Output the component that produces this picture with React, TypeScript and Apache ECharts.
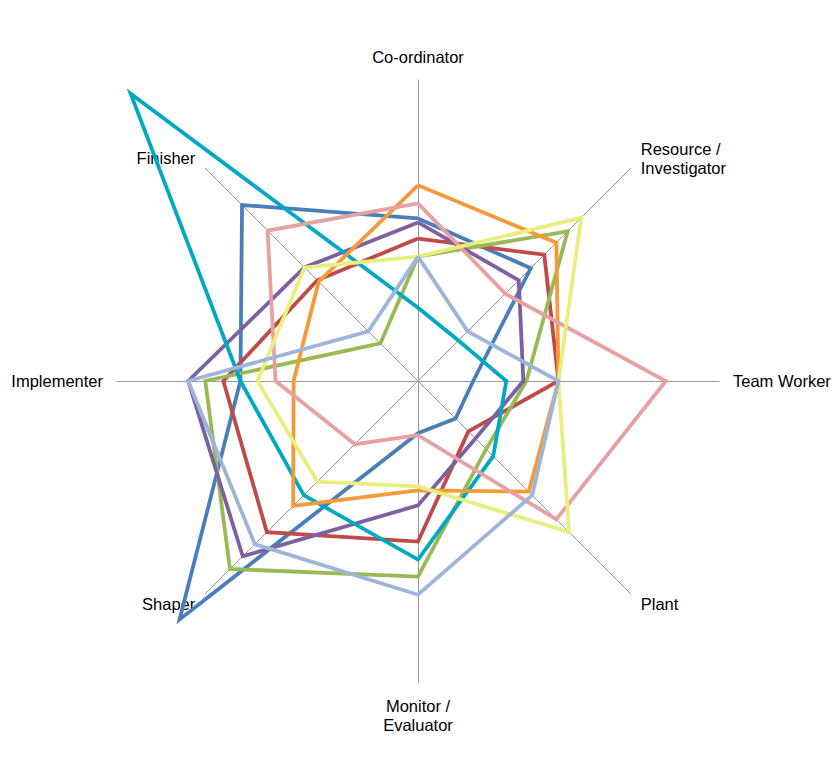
import React, { useEffect, useRef } from "react";
import * as echarts from "echarts";

// Indicators listed counter-clockwise from the top (ECharts radar order)
const indicators = [
  "Co-ordinator",
  "Finisher",
  "Implementer",
  "Shaper",
  "Monitor /\nEvaluator",
  "Plant",
  "Team Worker",
  "Resource /\nInvestigator",
];

// values in the same order as indicators
const seriesBlue = [16.2, 24.8, 17.7, 33.6, 5.2, 5.3, 5.5, 15.9];
const seriesRed = [14.2, 14.2, 19.4, 21.3, 16.0, 7.1, 14.0, 17.8];
const seriesGreen = [12.4, 5.3, 21.2, 26.5, 19.5, 9.6, 10.8, 21.1];
const seriesPurple = [15.8, 16.0, 22.9, 24.7, 12.4, 8.1, 10.5, 14.2];
const seriesTeal = [7.3, 40.5, 17.7, 16.1, 17.8, 10.6, 8.8, 5.7];
const seriesOrange = [19.5, 14.0, 12.4, 17.6, 10.9, 15.6, 14.0, 19.5];
const seriesPink = [17.7, 21.2, 14.2, 8.9, 5.4, 19.5, 24.7, 12.3];
const seriesYellow = [12.4, 16.0, 16.0, 14.2, 10.5, 21.3, 14.0, 23.0];
const seriesLightBlue = [12.4, 7.0, 22.9, 23.0, 21.3, 16.1, 14.0, 7.0];

const allSeries = [
  { name: "Blue", values: seriesBlue, color: "#4a7ebb" },
  { name: "Red", values: seriesRed, color: "#be4b48" },
  { name: "Green", values: seriesGreen, color: "#98b954" },
  { name: "Purple", values: seriesPurple, color: "#7d60a0" },
  { name: "Teal", values: seriesTeal, color: "#00a9c2" },
  { name: "Orange", values: seriesOrange, color: "#f49a38" },
  { name: "Pink", values: seriesPink, color: "#e6a1a0" },
  { name: "Yellow", values: seriesYellow, color: "#e9ef7e" },
  { name: "LightBlue", values: seriesLightBlue, color: "#9eb5da" },
];

const AXIS_MAX = 30;

export default function App() {
  const ref = useRef<HTMLDivElement>(null);
  useEffect(() => {
    if (!ref.current) return;
    const chart = echarts.init(ref.current, undefined, { renderer: "svg" });
    chart.setOption({
      animation: false,
      backgroundColor: "#ffffff",
      radar: {
        center: [418, 381],
        radius: 301,
        startAngle: 90,
        splitNumber: 1,
        shape: "polygon",
        indicator: indicators.map((n) => ({ name: n, min: 0, max: AXIS_MAX })),
        nameGap: 14,
        axisName: {
          color: "#000",
          fontSize: 16.5,
          fontFamily: "Liberation Sans, Arial, sans-serif",
          lineHeight: 19,
        },
        axisLine: { lineStyle: { color: "#999", width: 1 } },
        splitLine: { show: false },
        splitArea: { show: false },
        axisTick: { show: false },
        axisLabel: { show: false },
      },
      series: allSeries.map((s) => ({
        type: "radar",
        name: s.name,
        symbol: "none",
        lineStyle: { color: s.color, width: 3.8, join: "miter" },
        itemStyle: { color: s.color },
        data: [{ value: s.values, name: s.name }],
      })),
    });
    return () => chart.dispose();
  }, []);
  return (
    <div
      ref={ref}
      style={{ position: "fixed", left: 0, top: 0, width: 839, height: 759 }}
    />
  );
}
